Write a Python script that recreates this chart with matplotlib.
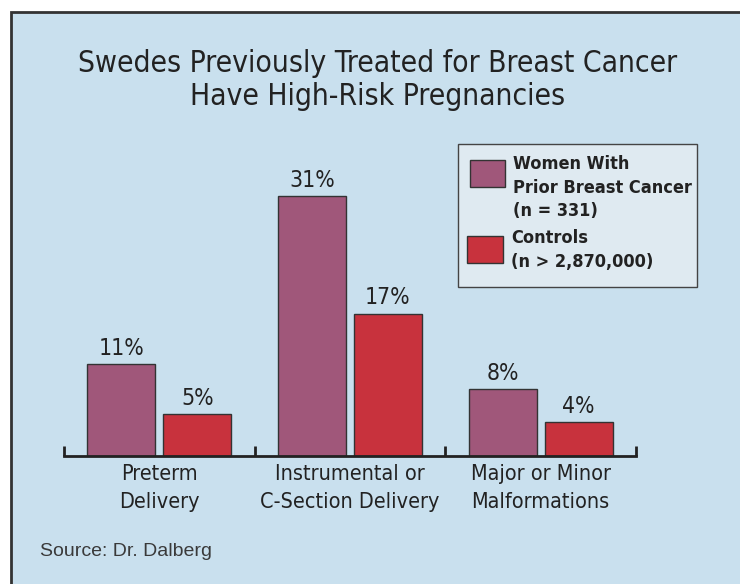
import matplotlib
matplotlib.use("Agg")
import matplotlib.pyplot as plt
from matplotlib.patches import Rectangle
import numpy as np

title = "Swedes Previously Treated for Breast Cancer\nHave High-Risk Pregnancies"
categories = ["Preterm\nDelivery", "Instrumental or\nC-Section Delivery", "Major or Minor\nMalformations"]
series_names = ["Women With\nPrior Breast Cancer\n(n = 331)", "Controls\n(n > 2,870,000)"]
prior_cancer = [11, 31, 8]
controls = [5, 17, 4]
source = "Source: Dr. Dalberg"

NARROW = ['DejaVu Sans']
purple = "#a0577a"
red = "#c8323d"
panel = "#c9e0ee"
txt = "#222222"

W, H = 740, 584
fig = plt.figure(figsize=(W/100, H/100), dpi=100, facecolor="white")

def fx(px): return px / W
def fy(py): return 1 - py / H

fig.patches.append(Rectangle((fx(11), -0.05), 1.2, fy(12) + 0.05, transform=fig.transFigure,
                             facecolor=panel, edgecolor="#333333", linewidth=2, zorder=-10))

ax_left, ax_right, ax_bottom, ax_top = 64, 636, 456, 140
ax = fig.add_axes([fx(ax_left), fy(ax_bottom), (ax_right - ax_left)/W, (ax_bottom - ax_top)/H])
ax.set_zorder(5)
ax.set_facecolor("none")
x = np.arange(len(categories))
off = 38 / 190.67
bw = 68 / 190.67
ymax = (ax_bottom - ax_top) / 8.38
ax.set_xlim(-0.5, len(categories) - 0.5)
ax.set_ylim(0, ymax)
b1 = ax.bar(x - off, prior_cancer, bw, color=purple, edgecolor="#333333", linewidth=1)
b2 = ax.bar(x + off, controls, bw, color=red, edgecolor="#333333", linewidth=1)
for bars, vals in ((b1, prior_cancer), (b2, controls)):
    for rect, v in zip(bars, vals):
        ax.annotate(f"{v}%", (rect.get_x() + rect.get_width()/2, v), xytext=(0, 3),
                    textcoords="offset points", ha="center", va="bottom",
                    fontsize=16.5, family=NARROW, stretch="condensed", color=txt)

for s in ("left", "right", "top"):
    ax.spines[s].set_visible(False)
ax.spines["bottom"].set_color("#222222")
ax.spines["bottom"].set_linewidth(2)
ax.set_yticks([])
ax.set_xticks(np.arange(-0.5, len(categories), 1.0))
ax.set_xticklabels([])
ax.tick_params(axis="x", direction="in", length=7, width=2, color="#222222")
for xi, lab in zip(x, categories):
    ax.text(xi, -0.025, lab, transform=ax.get_xaxis_transform(), ha="center", va="top",
            fontsize=15.5, family=NARROW, stretch="condensed", color=txt, linespacing=1.5)

fig.text(fx(378), fy(80), title, ha="center", va="center", fontsize=21.5, family=NARROW,
         stretch="condensed", color=txt, linespacing=1.2)

fig.patches.append(Rectangle((fx(458), fy(287)), (697-458)/W, (287-144)/H, transform=fig.transFigure,
                             facecolor="#dfeaf1", edgecolor="#444444", linewidth=1, zorder=1))
fig.patches.append(Rectangle((fx(470), fy(187)), 35/W, 27/H, transform=fig.transFigure,
                             facecolor=purple, edgecolor="#333333", linewidth=1, zorder=2))
fig.patches.append(Rectangle((fx(467), fy(263)), 36/W, 27/H, transform=fig.transFigure,
                             facecolor=red, edgecolor="#333333", linewidth=1, zorder=2))
fig.text(fx(513), fy(155), series_names[0], ha="left", va="top", fontsize=13, family=NARROW,
         stretch="condensed", weight="bold", color=txt, linespacing=1.4, zorder=3)
fig.text(fx(511), fy(229), series_names[1], ha="left", va="top", fontsize=13, family=NARROW,
         stretch="condensed", weight="bold", color=txt, linespacing=1.4, zorder=3)

fig.text(fx(40), fy(552), source, ha="left", va="center", fontsize=14,
         family=['Liberation Sans', 'DejaVu Sans'], color="#3a3a3a")

fig.savefig("out.png", dpi=100, facecolor="white")
